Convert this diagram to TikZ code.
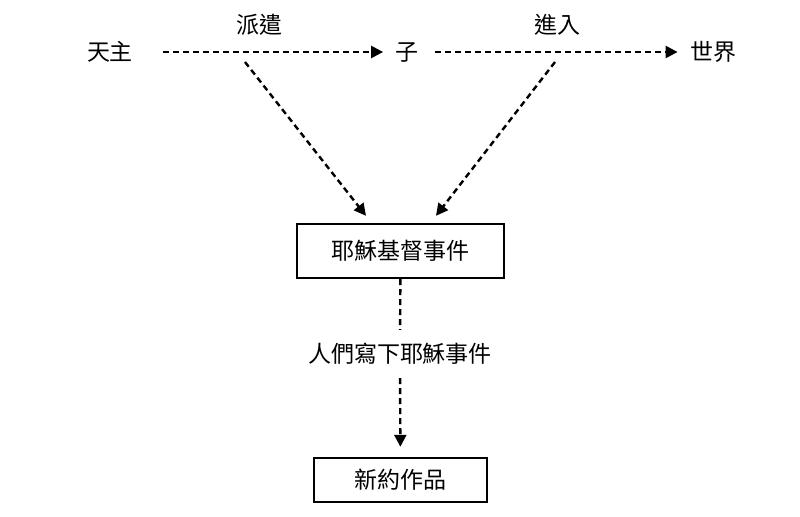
\documentclass[tikz,border=0pt]{standalone}
\usepackage{fontspec}
\setmainfont{Noto Sans CJK TC}
\usetikzlibrary{arrows.meta, positioning, calc}

\begin{document}
\begin{tikzpicture}[x=0.5pt,y=-0.5pt,
    word/.style={inner sep=0pt, font=\fontsize{11.5pt}{14pt}\selectfont},
    event/.style={draw, line width=1.2pt, inner sep=0pt, font=\fontsize{11.5pt}{14pt}\selectfont},
    link/.style={line width=1.2pt, dash pattern=on 3pt off 2pt},
    flow/.style={link, -{Triangle[length=6pt,width=6pt]}}]
\useasboundingbox (0,0) rectangle (800,517);
\node[word] (god) at (110,52) {天主};
\node[word] (son) at (407,52) {子};
\node[word] (world) at (713,52) {世界};
\node[word] (send) at (259,25) {派遣};
\node[word] (enter) at (557,25) {進入};
\node[event, minimum width=103.5pt, minimum height=27pt] (jesus) at (400.5,251) {耶穌基督事件};
\node[word, inner ysep=6.5pt] (write) at (400,354) {人們寫下耶穌事件};
\node[event, minimum width=86.5pt, minimum height=22pt] (nt) at (400.5,480) {新約作品};
\coordinate (sendfoot) at (245,62);
\coordinate (enterfoot) at (555,62);
\coordinate (jesusL) at ($(jesus.north)+(-34.5,-7)$);
\coordinate (jesusR) at ($(jesus.north)+(35.5,-7)$);
\draw[flow, shorten <=15pt, shorten >=6pt] (god) -- (son);
\draw[flow, shorten <=8pt, shorten >=6pt] (son) -- (world);
\draw[flow] (sendfoot) -- (jesusL);
\draw[flow] (enterfoot) -- (jesusR);
\draw[link] (jesus) -- (write);
\draw[flow, shorten >=5pt] (write) -- (nt);
\end{tikzpicture}
\end{document}
